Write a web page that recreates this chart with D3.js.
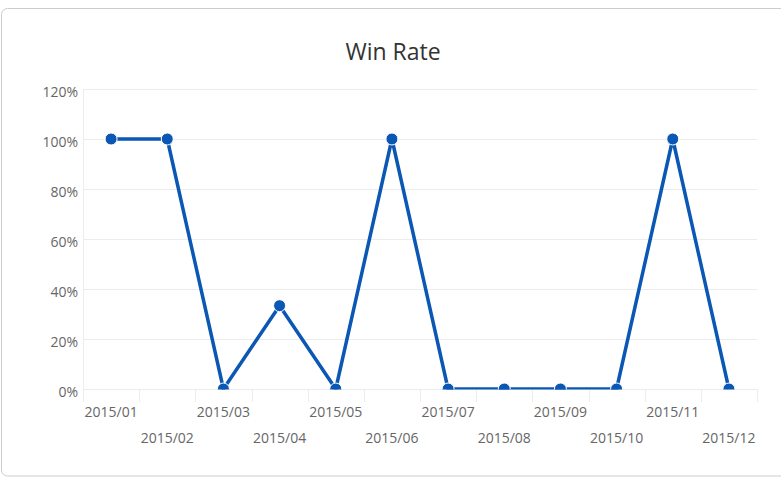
<!DOCTYPE html>
<html><head><meta charset="utf-8">
<script src="https://cdn.jsdelivr.net/npm/d3@7"></script>
<style>
html,body{margin:0;padding:0;background:#fff;}
svg{display:block;font-family:"Open Sans",sans-serif;}
</style></head>
<body><svg id="c" width="781" height="477"></svg>
<script>
const categories = ["2015/01","2015/02","2015/03","2015/04","2015/05","2015/06","2015/07","2015/08","2015/09","2015/10","2015/11","2015/12"];
const winRate = [1, 1, 0, 0.3333, 0, 1, 0, 0, 0, 0, 1, 0];
const yTicks = [0, 0.2, 0.4, 0.6, 0.8, 1.0, 1.2];
const title = "Win Rate";

const svg = d3.select("#c");
svg.append("rect").attr("x",1.5).attr("y",8.5).attr("width",800).attr("height",467.5)
  .attr("rx",6).attr("fill","#fff").attr("stroke","#ccc").attr("stroke-width",1);

const L=83, R=757, T=89, B=389;
const x = d3.scaleBand().domain(categories).range([L,R]);
const y = d3.scaleLinear().domain([0,1.2]).range([B,T]);

svg.append("text").attr("x",393).attr("y",60).attr("text-anchor","middle")
  .attr("font-size",23).attr("fill","#333").text(title);

// grid
svg.append("g").selectAll("line").data(yTicks).join("line")
  .attr("x1",L).attr("x2",R).attr("y1",d=>Math.round(y(d))+0.5).attr("y2",d=>Math.round(y(d))+0.5)
  .attr("stroke","#ececec").attr("stroke-width",1);
svg.append("line").attr("x1",L+0.5).attr("x2",L+0.5).attr("y1",T).attr("y2",B+13)
  .attr("stroke","#ececec");
// x ticks at band boundaries
const bounds = categories.map(c=>x(c)).concat([R]);
svg.append("g").selectAll("line").data(bounds.slice(1)).join("line")
  .attr("x1",d=>Math.round(d)+0.5).attr("x2",d=>Math.round(d)+0.5).attr("y1",B).attr("y2",B+13)
  .attr("stroke","#ececec");

// y labels
svg.append("g").selectAll("text").data(yTicks).join("text")
  .attr("x",78).attr("y",d=>y(d)+7.5).attr("text-anchor","end")
  .attr("font-size",14).attr("fill","#666").text(d=>Math.round(d*100)+"%");

// x labels staggered
svg.append("g").selectAll("text").data(categories).join("text")
  .attr("x",d=>x(d)+x.bandwidth()/2).attr("y",(d,i)=> i%2===0 ? 417 : 443)
  .attr("text-anchor","middle").attr("font-size",14).attr("fill","#666").text(d=>d);

// clip
svg.append("clipPath").attr("id","clip").append("rect")
  .attr("x",L-10).attr("y",T-10).attr("width",R-L+20).attr("height",B-T+10.5);

const g = svg.append("g").attr("clip-path","url(#clip)");
const line = d3.line().x((d,i)=>x(categories[i])+x.bandwidth()/2).y(d=>y(d));
g.append("path").datum(winRate).attr("d",line).attr("fill","none")
  .attr("stroke","#0b57b4").attr("stroke-width",3.5).attr("stroke-linejoin","round");
g.selectAll("circle").data(winRate).join("circle")
  .attr("cx",(d,i)=>x(categories[i])+x.bandwidth()/2).attr("cy",d=>y(d)).attr("r",6)
  .attr("fill","#0b57b4").attr("stroke","#fff").attr("stroke-width",1);
</script></body></html>
